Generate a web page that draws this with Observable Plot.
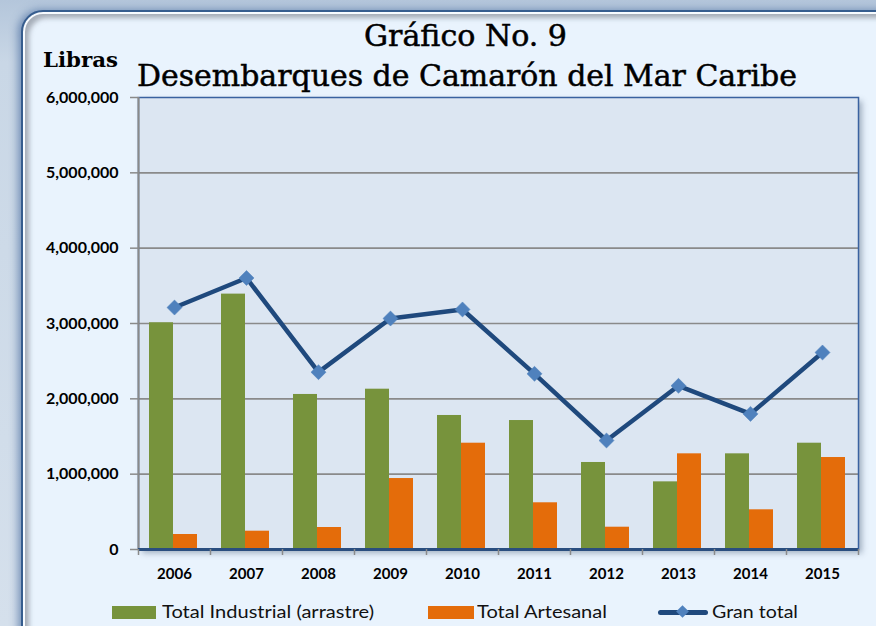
<!DOCTYPE html>
<html>
<head>
<meta charset="utf-8">
<script src="https://cdn.jsdelivr.net/npm/d3@7"></script>
<script src="https://cdn.jsdelivr.net/npm/@observablehq/plot@0.6"></script>
<style>
  html, body { margin: 0; padding: 0; }
  #wrap { position: relative; width: 876px; height: 626px; overflow: hidden;
    background: linear-gradient(180deg, #b4c6db 0%, #c9d7e6 10%, #d5e0ec 100%); }
  #card { position: absolute; left: 21px; top: 10px; width: 900px; height: 640px;
    box-sizing: border-box; border: 2px solid #365d8e; border-radius: 22px; background: #e9f3fd;
    box-shadow: -3px 0 8px rgba(40,80,140,0.55), inset 0 0 0 2px #f7fbff, inset 4px 4px 5px 2px rgba(110,115,125,0.55); }
  #plotbg { position: absolute; left: 138px; top: 97px; width: 720px; height: 452px;
    background: #dce6f2; box-shadow: 4px 4px 6px rgba(70,90,120,0.45); }
  #chart { position: absolute; left: 0; top: 0; }
  .t { position: absolute; white-space: nowrap; color: #000; transform-origin: 0 0; }
  .title { font-family: "DejaVu Serif Condensed", "DejaVu Serif", serif; -webkit-text-stroke: 0.45px #000; }
  .leg { position: absolute; font-family: Lato, sans-serif; font-size: 17.5px; color: #111; white-space: nowrap; transform-origin: 0 0; }
  .sw { position: absolute; height: 13px; }
</style>
</head>
<body>
<div id="wrap">
  <div id="card"></div>
  <div id="plotbg"></div>
  <div id="chart"></div>
  <div class="t title" data-w="203" style="left:364px; top:19px; font-size:29px;">Gráfico No. 9</div>
  <div class="t title" data-w="660" style="left:137px; top:58px; font-size:30px;">Desembarques de Camarón del Mar Caribe</div>
  <div class="t title" data-w="75" style="left:43px; top:47px; font-size:21px; font-weight:bold; -webkit-text-stroke:0;">Libras</div>
  <div class="sw" style="left:112px; top:606px; width:44px; background:#77933c;"></div>
  <div class="leg" data-w="212" style="left:162px; top:601px;">Total Industrial (arrastre)</div>
  <div class="sw" style="left:428px; top:606px; width:46px; background:#e46c0a;"></div>
  <div class="leg" data-w="130" style="left:477px; top:601px;">Total Artesanal</div>
  <div style="position:absolute; left:658px; top:610px; width:50px; height:5px; border-radius:3px; background:#1f497d;"></div>
  <div style="position:absolute; left:678px; top:607px; width:9px; height:9px; background:#4f81bd; transform:rotate(45deg);"></div>
  <div class="leg" data-w="86" style="left:712px; top:601px;">Gran total</div>
</div>
<script>
const years = ["2006","2007","2008","2009","2010","2011","2012","2013","2014","2015"];
const industrial = [3010000, 3390000, 2058000, 2128000, 1779000, 1712000, 1155000, 898000, 1270000, 1411000];
const artesanal = [199000, 243000, 292000, 942000, 1411000, 620000, 296000, 1270000, 527000, 1221000];
const granTotal = [3212000, 3604000, 2354000, 3066000, 3186000, 2332000, 1447000, 2173000, 1800000, 2615000];
const yTicks = [0, 1000000, 2000000, 3000000, 4000000, 5000000, 6000000];

const data = years.map((year, i) => ({year, industrial: industrial[i], artesanal: artesanal[i], total: granTotal[i]}));

const W = 876, H = 626, mL = 138, mR = 18, mT = 97, mB = 77;
const half = (W - mL - mR) / years.length / 2;

const chart = Plot.plot({
  width: W, height: H,
  marginLeft: mL, marginRight: mR, marginTop: mT, marginBottom: mB,
  style: {background: "transparent", fontFamily: "Lato, sans-serif", color: "#000", overflow: "visible"},
  x: {domain: years, padding: 0, axis: null, label: null},
  y: {domain: [0, 6000000], axis: null, label: null},
  marks: [
    Plot.gridY({ticks: yTicks.slice(1, -1), stroke: "#8a8a8a", strokeOpacity: 1, strokeWidth: 1.6}),
    Plot.barY(data, {x: "year", y: "industrial", fill: "#77933c", insetLeft: 11, insetRight: 37}),
    Plot.barY(data, {x: "year", y: "artesanal", fill: "#e46c0a", insetLeft: 35, insetRight: 13}),
    Plot.frame({stroke: "#3a62a0", strokeWidth: 1.5}),
    Plot.ruleX([years[0]], {dx: -half, stroke: "#8a8a8a", strokeWidth: 2}),
    Plot.line(data, {x: "year", y: "total", stroke: "#1f497d", strokeWidth: 4.5}),
    Plot.dot(data, {x: "year", y: "total", symbol: "square", r: 6, rotate: 45, fill: "#4f81bd", stroke: "#4f81bd", strokeWidth: 0.5}),
    Plot.ruleY([0], {stroke: "#2a4e7f", strokeWidth: 3}),
    Plot.axisY({ticks: yTicks, tickFormat: d3.format(","), tickSize: 8, tickPadding: 12, fontSize: 16, fontWeight: "bold", stroke: "#8a8a8a", strokeWidth: 1.5, label: null}),
    Plot.axisX({ticks: years, tickSize: 6, tickFormat: () => "", dx: -half, stroke: "#8a8a8a", strokeWidth: 1.5, label: null}),
    Plot.axisX({ticks: [years[years.length - 1]], tickSize: 6, tickFormat: () => "", dx: half, stroke: "#8a8a8a", strokeWidth: 1.5, label: null}),
    Plot.axisX({ticks: years, tickSize: 0, tickPadding: 19, fontSize: 15, fontWeight: "bold", label: null})
  ]
});
document.getElementById("chart").appendChild(chart);

// fit text widths to the reference
document.querySelectorAll("[data-w]").forEach(el => {
  const w = el.getBoundingClientRect().width;
  const target = +el.dataset.w;
  if (w > 0) el.style.transform = `scaleX(${target / w})`;
});
</script>
</body>
</html>
